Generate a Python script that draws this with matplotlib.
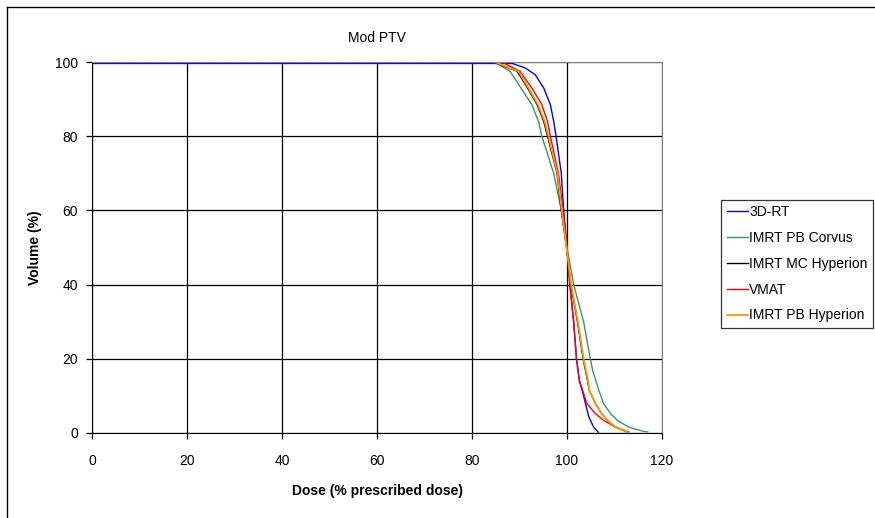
import matplotlib
matplotlib.use("Agg")
import matplotlib.pyplot as plt
from matplotlib.lines import Line2D

plt.rcParams["font.family"] = ["Liberation Sans", "DejaVu Sans"]
plt.rcParams["font.size"] = 10

# dose (% prescribed) and volume (%)
dose_3drt = [0, 88.5, 91.2, 93.3, 95.1, 96.5, 97.2, 97.7, 98.8, 99.3, 100.0,
             100.6, 101.4, 102.0, 102.6, 103.2, 103.9, 104.6, 105.6, 106.6]
vol_3drt = [99.6, 99.6, 98.4, 96.6, 93.0, 88.5, 84.0, 80, 70, 60, 50,
            40, 30, 20, 14, 11.5, 7.9, 4.3, 1.6, 0.2]

dose_corvus = [0, 84.8, 88.0, 90.3, 92.6, 94.0, 94.7, 97.2, 98.8, 100.0,
               101.4, 103.5, 104.9, 105.4, 106.7, 107.7, 109.2, 110.6, 113.0,
               115.9, 117.0]
vol_corvus = [100, 100, 97.5, 93, 88.5, 84, 80, 70, 60, 50,
              40, 30, 20, 16.9, 11.5, 7.9, 5.2, 3.4, 1.6, 0.5, 0.3]

dose_mc = [0, 84.5, 89.5, 91.7, 93.7, 95.1, 95.9, 97.9, 98.8, 99.9,
           100.8, 102.2, 103.4, 104.3, 104.7, 106.0, 107.3, 108.5, 110.2, 112.6]
vol_mc = [100, 100, 97.5, 93, 88.5, 84, 80, 70, 60, 50,
          40, 30, 20, 14.3, 11.5, 7.9, 5.2, 3.4, 1.6, 0.3]

dose_vmat = [0, 86.3, 90.1, 92.6, 94.7, 95.9, 96.5, 98.2, 99.2, 100.0,
             100.6, 101.4, 102.0, 102.6, 103.3, 104.2, 106.0, 107.7, 110.2, 113.0]
vol_vmat = [100, 100, 97.5, 93, 88.5, 84, 80, 70, 60, 50,
            40, 30, 20, 14.3, 11.5, 7.9, 5.2, 3.4, 1.6, 0.3]

dose_pb = [0, 84.8, 89.8, 91.9, 93.9, 95.3, 96.1, 98.0, 98.9, 99.9,
           100.9, 102.3, 103.5, 104.4, 104.7, 106.0, 107.3, 108.5, 110.2, 112.7]
vol_pb = [100, 100, 97.5, 93, 88.5, 84, 80, 70, 60, 50,
          40, 30, 20, 14.3, 11.5, 7.9, 5.2, 3.4, 1.6, 0.3]

series = [
    ("3D-RT", dose_3drt, vol_3drt, "#0000FF", 1.0),
    ("IMRT PB Corvus", dose_corvus, vol_corvus, "#339966", 1.0),
    ("IMRT MC Hyperion", dose_mc, vol_mc, "#000000", 1.0),
    ("VMAT", dose_vmat, vol_vmat, "#FF0000", 1.0),
    ("IMRT PB Hyperion", dose_pb, vol_pb, "#FF9900", 1.3),
]

W, H = 875, 518
fig = plt.figure(figsize=(W / 100, H / 100), dpi=100)
ax = fig.add_axes([92 / W, 1 - 433 / H, 570 / W, 371 / H])

for label, x, y, color, lw in series:
    ax.plot(x, y, color=color, lw=lw, label=label)

ax.set_xlim(0, 120)
ax.set_ylim(0, 100)
ax.set_xticks(range(0, 121, 20))
ax.set_yticks(range(0, 101, 20))
ax.grid(True, color="black", lw=0.9)
ax.set_axisbelow(True)
ax.tick_params(direction="out", length=4, width=0.9, color="black", pad=6)
ax.tick_params(axis="x", pad=11)
for side in ("top", "right"):
    ax.spines[side].set_color("#808080")
for side in ("left", "bottom"):
    ax.spines[side].set_color("black")

ax.set_xlabel("Dose (% prescribed dose)", fontweight="bold")
ax.set_ylabel("Volume (%)", fontweight="bold")
ax.xaxis.set_label_coords(0.5, -0.137)
ax.yaxis.set_label_coords(-0.088, 0.5)

fig.text((92 + 662) / 2 / W, 1 - 38 / H, "Mod PTV", ha="center", va="center")

leg = fig.legend(loc="lower right", bbox_to_anchor=(873 / W, 1 - 328 / H),
                 frameon=True, fancybox=False, edgecolor="black",
                 handlelength=1.5, handletextpad=0.1, labelspacing=0.85,
                 borderpad=0.4, borderaxespad=0)
leg.get_frame().set_linewidth(0.9)

# outer chart border (left and top visible)
fig.add_artist(Line2D([7 / W, 7 / W], [0, 1 - 7 / H], transform=fig.transFigure,
                      color="black", lw=1.0))
fig.add_artist(Line2D([7 / W, 1], [1 - 7 / H, 1 - 7 / H], transform=fig.transFigure,
                      color="black", lw=1.0))

fig.savefig("out.png", dpi=100)
